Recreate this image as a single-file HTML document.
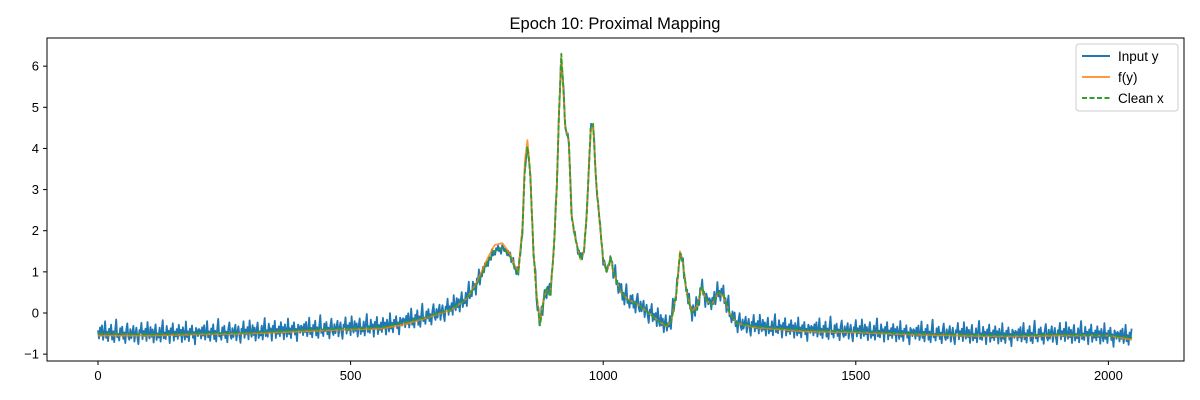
<!DOCTYPE html>
<html><head><meta charset="utf-8"><style>
body{margin:0;background:#fff}
svg{display:block;font-family:"Liberation Sans","DejaVu Sans",sans-serif}
</style></head><body>
<svg id="chart" width="1200" height="400" viewBox="0 0 1200 400" xmlns="http://www.w3.org/2000/svg">
<rect width="1200" height="400" fill="#fff"/>
<text x="615" y="29" text-anchor="middle" font-size="16.5" fill="#000">Epoch 10: Proximal Mapping</text>
<g id="plot"></g>
<rect x="47" y="38" width="1137" height="323" fill="none" stroke="#000" stroke-width="1"/>
<g id="axes"></g>
<g>
<rect x="1076" y="44" width="102" height="67" rx="3" fill="#fff" fill-opacity="0.8" stroke="#ccc"/>
<g><line x1="1082" y1="56" x2="1110" y2="56" stroke="#1f77b4" stroke-width="2"/><text x="1118" y="61" font-size="13.5">Input y</text></g>
<g><line x1="1082" y1="77" x2="1110" y2="77" stroke="#ff7f0e" stroke-opacity="0.8" stroke-width="2"/><text x="1118" y="82" font-size="13.5">f(y)</text></g>
<g><line x1="1082" y1="98" x2="1110" y2="98" stroke="#2ca02c" stroke-width="2" stroke-dasharray="5,2.5"/><text x="1118" y="103" font-size="13.5">Clean x</text></g>
</g>
</svg>
<script>
const cleanIdx=[0,100,200,300,400,500,560,600,650,700,730,750,770,785,800,815,825,832,840,845,850,855,862,868,875,882,888,895,902,908,913,917,921,925,932,937,945,955,962,968,975,980,986,993,1000,1007,1015,1020,1035,1050,1070,1090,1110,1125,1135,1145,1152,1158,1165,1175,1185,1195,1205,1215,1228,1238,1250,1265,1300,1400,1500,1600,1700,1800,1900,2000,2047];
const cleanVal=[-0.5,-0.52,-0.5,-0.48,-0.42,-0.38,-0.35,-0.25,-0.1,0.1,0.35,0.7,1.2,1.5,1.58,1.4,1.1,0.95,2.0,3.5,4.05,3.5,1.5,0.4,-0.3,0.3,0.6,0.4,1.5,3.0,5.0,6.3,5.5,4.5,4.2,2.4,1.8,1.3,1.5,2.5,4.5,4.6,3.2,2.2,1.3,1.0,1.35,1.0,0.5,0.3,0.2,0.0,-0.2,-0.3,-0.2,0.5,1.45,1.2,0.5,0.0,0.1,0.65,0.3,0.2,0.5,0.45,0.0,-0.25,-0.33,-0.42,-0.45,-0.5,-0.52,-0.55,-0.52,-0.55,-0.6];
const fyVal=[-0.55,-0.55,-0.52,-0.5,-0.45,-0.4,-0.38,-0.3,-0.12,0.08,0.35,0.75,1.3,1.65,1.7,1.45,1.15,1.0,2.1,3.7,4.2,3.5,1.5,0.5,-0.25,0.35,0.55,0.45,1.5,3.0,5.0,6.25,5.4,4.5,4.2,2.4,1.8,1.3,1.5,2.5,4.4,4.55,3.2,2.2,1.3,1.0,1.35,1.0,0.5,0.32,0.2,0.0,-0.2,-0.32,-0.2,0.5,1.5,1.2,0.5,0.05,0.15,0.6,0.3,0.2,0.5,0.4,0.0,-0.25,-0.35,-0.45,-0.47,-0.52,-0.55,-0.57,-0.55,-0.55,-0.65];
const noise=[0.08,-0.12,0.15,-0.05,0.2,-0.15,0.02,0.3,-0.1,0.05,-0.18,0.12,-0.02,0.22,-0.14,0.06,-0.2,0.1,0.35,-0.08,0.0,-0.16,0.14,-0.04,0.18,-0.12,0.04,-0.22,0.1,0.26,-0.06,-0.14,0.12,-0.1,0.06,0.2,-0.18,0.02,0.16,-0.08,-0.24,0.1,0.04,0.28,-0.12,0.08,-0.04,0.14,-0.16,0.3,0.0,-0.1,0.18,-0.06,0.12,-0.2,0.06,0.24,-0.14,0.02,-0.08,0.16,-0.18,0.1,0.34,-0.1,0.04,-0.12,0.2,-0.02,0.08,-0.22,0.14,0.0,0.26,-0.16,0.06,-0.06,0.12,-0.12,0.22,-0.04,0.1,-0.2,0.16,0.02,-0.14,0.3,-0.08,0.06,-0.18,0.12,0.0,0.2,-0.1,0.04,-0.26,0.14,0.08,-0.06,0.11];
const xTicks=[0,500,1000,1500,2000];
const yTicks=[-1,0,1,2,3,4,5,6];
const N=2048;
const X=v=>98+v*0.5052, Y=v=>313-v*41.14;
function interp(idx,vals,x){for(let i=1;i<idx.length;i++){if(x<=idx[i]){const t=(x-idx[i-1])/(idx[i]-idx[i-1]);return vals[i-1]+t*(vals[i]-vals[i-1]);}}return vals[vals.length-1];}
const NS="http://www.w3.org/2000/svg";
const plot=document.getElementById('plot'),axes=document.getElementById('axes');
function path(d,stroke,extra,name){const p=document.createElementNS(NS,'path');p.setAttribute('d',d);p.setAttribute('fill','none');p.setAttribute('stroke',stroke);p.setAttribute('stroke-width','1.8');p.setAttribute('stroke-linejoin','round');for(const k in extra)p.setAttribute(k,extra[k]);


plot.appendChild(p);}
let d='';for(let i=0,k=0;i<N;i+=2,k++){const c=interp(cleanIdx,cleanVal,i);const amp=c>1?0.5:1;d+=(i?'L':'M')+X(i).toFixed(1)+','+Y(c+noise[k%noise.length]*amp).toFixed(1);}
path(d,'#1f77b4',{},'input-y-line');
d='';for(let i=0;i<N;i++){d+=(i?'L':'M')+X(i).toFixed(1)+','+Y(interp(cleanIdx,fyVal,i)).toFixed(1);}
path(d,'#ff7f0e',{'stroke-opacity':'0.8'},'f-y-line');
d='';for(let i=0;i<N;i++){d+=(i?'L':'M')+X(i).toFixed(1)+','+Y(interp(cleanIdx,cleanVal,i)).toFixed(1);}
path(d,'#2ca02c',{'stroke-dasharray':'5,2.5'},'clean-x-line');
xTicks.forEach(t=>{const g=document.createElementNS(NS,'g');


g.innerHTML=`<line x1="${X(t)}" y1="361" x2="${X(t)}" y2="365" stroke="#000"/><text x="${X(t)}" y="380" text-anchor="middle" font-size="13">${t}</text>`;axes.appendChild(g);});
yTicks.forEach(t=>{const g=document.createElementNS(NS,'g');


g.innerHTML=`<line x1="43" y1="${Y(t)}" x2="47" y2="${Y(t)}" stroke="#000"/><text x="39" y="${Y(t)+4.5}" text-anchor="end" font-size="13">${t<0?'\u2212'+(-t):t}</text>`;axes.appendChild(g);});
</script>
</body></html>
